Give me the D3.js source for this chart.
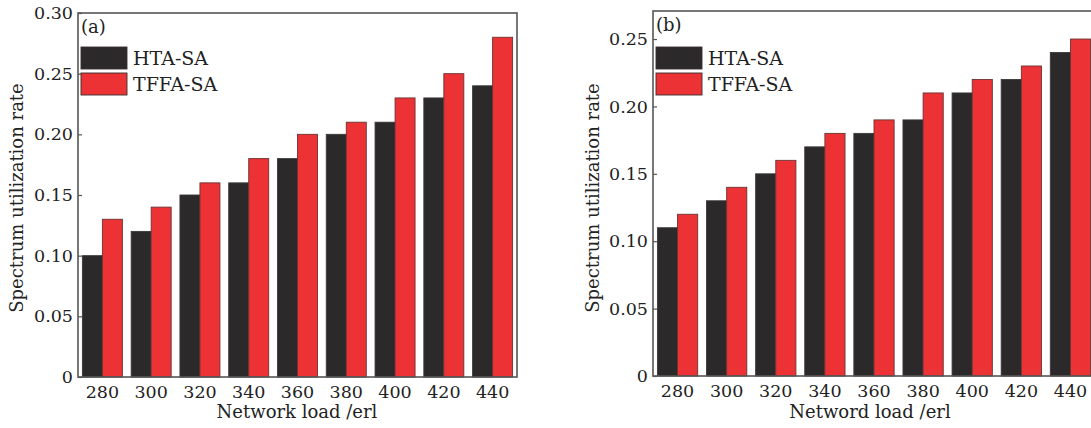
<!DOCTYPE html>
<html>
<head>
<meta charset="utf-8">
<script src="https://cdn.jsdelivr.net/npm/d3@7"></script>
<style>
  body { margin: 0; background: #fff; }
  svg text { font-family: "DejaVu Serif", serif; fill: #222; }
</style>
</head>
<body>
<svg id="chart" width="1091" height="428"></svg>
<script>
// data
const loads = ["280", "300", "320", "340", "360", "380", "400", "420", "440"]
const seriesNames = ["HTA-SA", "TFFA-SA"]
const htaA = [0.10, 0.12, 0.15, 0.16, 0.18, 0.20, 0.21, 0.23, 0.24]
const tffaA = [0.13, 0.14, 0.16, 0.18, 0.20, 0.21, 0.23, 0.25, 0.28]
const htaB = [0.11, 0.13, 0.15, 0.17, 0.18, 0.19, 0.21, 0.22, 0.24]
const tffaB = [0.12, 0.14, 0.16, 0.18, 0.19, 0.21, 0.22, 0.23, 0.25]
const ticksA = [0, 0.05, 0.10, 0.15, 0.20, 0.25, 0.30]
const ticksB = [0, 0.05, 0.10, 0.15, 0.20, 0.25]

const colors = ["#2b292a", "#ec3234"]
const svg = d3.select("#chart")

function drawPanel(opt) {
    let x = d3.scaleBand()
        .domain(loads)
        .range([opt.left, opt.right])
        .paddingInner(0.18)
        .paddingOuter(0.09)

    let xSub = d3.scaleBand()
        .domain(seriesNames)
        .range([0, x.bandwidth()])

    let y = d3.scaleLinear()
        .domain([0, opt.ymax])
        .range([opt.bottom, opt.top])

    let g = svg.append("g")

    let rows = loads.map((l, i) => ({load: l, values: [opt.hta[i], opt.tffa[i]]}))

    g.selectAll("g.grp")
        .data(rows)
        .join("g")
        .attr("class", "grp")
        .attr("transform", d => `translate(${x(d.load)},0)`)
        .selectAll("rect")
        .data(d => d.values.map((v, k) => ({key: seriesNames[k], value: v, k: k})))
        .join("rect")
        .attr("x", d => xSub(d.key))
        .attr("y", d => y(d.value))
        .attr("width", xSub.bandwidth())
        .attr("height", d => y(0) - y(d.value))
        .attr("fill", d => colors[d.k])
        .attr("stroke", d => d.k === 0 ? "#3a3838" : "#6a3434")
        .attr("stroke-width", 0.9)

    // frame
    g.append("rect")
        .attr("x", opt.left).attr("y", opt.top)
        .attr("width", opt.frameRight - opt.left)
        .attr("height", opt.bottom - opt.top)
        .attr("fill", "none")
        .attr("stroke", "#555")
        .attr("stroke-width", 1.6)

    // y axis, inward ticks
    let yAxis = g.append("g")
        .attr("transform", `translate(${opt.left},0)`)
        .call(d3.axisLeft(y).tickValues(opt.ticks).tickSizeInner(-4).tickSizeOuter(0)
            .tickFormat(d => d === 0 ? "0" : d3.format(".2f")(d)))
    yAxis.select(".domain").remove()
    yAxis.selectAll("line").attr("stroke", "#555").attr("stroke-width", 1.2)
    yAxis.selectAll("text")
        .attr("x", -5)
        .style("font-size", "17.5px")
        .style("font-family", "DejaVu Serif, serif")
        .attr("fill", "#222")

    // x axis labels only
    let xAxis = g.append("g")
        .attr("transform", `translate(0,${opt.bottom})`)
        .call(d3.axisBottom(x).tickSize(0))
    xAxis.select(".domain").remove()
    xAxis.selectAll("text")
        .attr("y", 9)
        .style("font-size", "17.5px")
        .style("font-family", "DejaVu Serif, serif")
        .attr("fill", "#222")

    g.append("text")
        .attr("x", opt.xTitleX).attr("y", 418)
        .attr("text-anchor", "middle")
        .style("font-size", "18px")
        .text(opt.xTitle)

    g.append("text")
        .attr("transform", `translate(${opt.yTitleX},198) rotate(-90)`)
        .attr("text-anchor", "middle")
        .style("font-size", "18px")
        .text("Spectrum utilization rate")

    g.append("text")
        .attr("x", opt.left + 3).attr("y", opt.top + 20)
        .style("font-size", "18px")
        .text(opt.tag)

    // legend
    seriesNames.forEach((name, k) => {
        g.append("rect")
            .attr("x", opt.left + 3).attr("y", 47 + k * 26)
            .attr("width", 46).attr("height", 22)
            .attr("fill", colors[k])
            .attr("stroke", "#3a3030").attr("stroke-width", 0.9)
        g.append("text")
            .attr("x", opt.left + 55).attr("y", 65 + k * 26)
            .style("font-size", "19px")
            .text(name)
    })
}

drawPanel({left: 78, right: 517, frameRight: 517, top: 13, bottom: 377, ymax: 0.30,
    hta: htaA, tffa: tffaA, ticks: ticksA, tag: "(a)",
    xTitle: "Network load /erl", xTitleX: 297, yTitleX: 23})

drawPanel({left: 653, right: 1095, frameRight: 1110, top: 11, bottom: 376, ymax: 0.2708,
    hta: htaB, tffa: tffaB, ticks: ticksB, tag: "(b)",
    xTitle: "Netword load /erl", xTitleX: 870, yTitleX: 599})
</script>
</body>
</html>
